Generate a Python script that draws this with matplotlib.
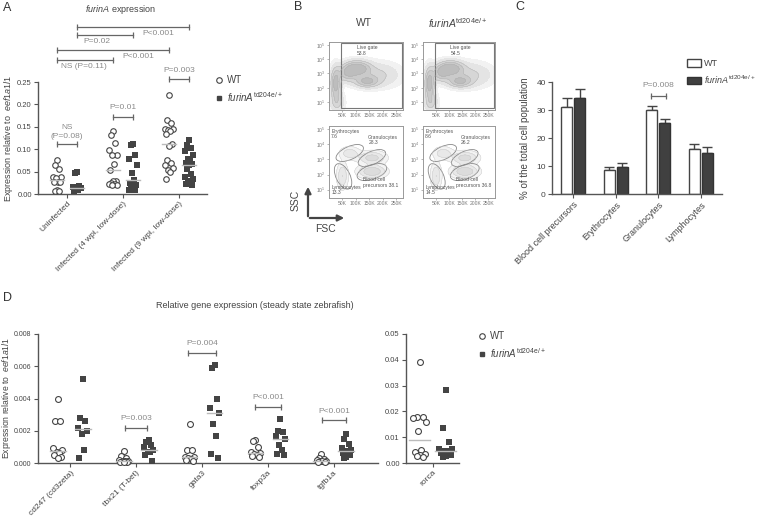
import numpy as np
import matplotlib
matplotlib.use('Agg')
import matplotlib.pyplot as plt
from matplotlib.patches import Ellipse, Rectangle, Patch, FancyArrowPatch
from matplotlib.lines import Line2D

plt.rcParams['font.family'] = ['Liberation Sans', 'DejaVu Sans']
plt.rcParams['mathtext.fontset'] = 'custom'
plt.rcParams['mathtext.rm'] = 'Liberation Sans'
plt.rcParams['mathtext.it'] = 'Liberation Sans:italic'

# ---- panel A data (furinA expression) ----
a_groups = ['Uninfected', 'Infected (4 wpi, low-dose)', 'Infected (9 wpi, low-dose)']
a_wt_uninf = [0.077, 0.064, 0.055, 0.038, 0.037, 0.036, 0.027, 0.027, 0.026, 0.010, 0.007, 0.006]
a_mut_uninf = [0.050, 0.046, 0.018, 0.016, 0.013, 0.010, 0.008, 0.007]
a_wt_4wpi = [0.141, 0.132, 0.113, 0.099, 0.088, 0.087, 0.067, 0.053, 0.029, 0.028, 0.025, 0.022, 0.022, 0.020, 0.020]
a_mut_4wpi = [0.111, 0.109, 0.087, 0.079, 0.064, 0.047, 0.031, 0.024, 0.020, 0.015, 0.012, 0.010, 0.010]
a_wt_9wpi = [0.222, 0.166, 0.158, 0.146, 0.145, 0.143, 0.140, 0.135, 0.112, 0.108, 0.077, 0.070, 0.064, 0.057, 0.054, 0.050, 0.033]
a_mut_9wpi = [0.121, 0.110, 0.103, 0.095, 0.088, 0.078, 0.074, 0.070, 0.067, 0.064, 0.055, 0.045, 0.038, 0.033, 0.030, 0.026, 0.022, 0.019]

# ---- panel C data (cell populations, mean + SEM) ----
c_cats = ['Blood cell precursors', 'Erythrocytes', 'Granulocytes', 'Lymphocytes']
c_wt = [31.0, 8.4, 29.9, 16.2]
c_wt_err = [3.4, 1.4, 1.6, 1.8]
c_mut = [34.3, 9.8, 25.3, 14.7]
c_mut_err = [3.1, 1.2, 1.4, 2.2]

# ---- panel D data (steady state gene expression) ----
d_genes = ['cd247 (cd3zeta)', 'tbx21 (T-bet)', 'gata3', 'foxp3a', 'tgfb1a']
d_wt = [
    [0.0040, 0.0026, 0.0026, 0.00095, 0.0008, 0.0007, 0.0006, 0.0005, 0.0004, 0.0003],
    [0.00075, 0.00045, 0.00030, 0.00020, 0.00015, 0.00012, 0.00010, 0.00008, 0.00006, 0.00005],
    [0.0024, 0.0008, 0.0008, 0.0004, 0.00035, 0.0003, 0.00025, 0.0002, 0.00015],
    [0.0014, 0.00135, 0.0010, 0.0007, 0.0006, 0.00055, 0.0005, 0.00045, 0.0004],
    [0.00055, 0.0003, 0.00025, 0.0002, 0.00015, 0.00012, 0.0001, 0.00008, 0.00005],
]
d_mut = [
    [0.0052, 0.0028, 0.0026, 0.0022, 0.0020, 0.0018, 0.0008, 0.0003],
    [0.0014, 0.0013, 0.0011, 0.0010, 0.0008, 0.0007, 0.0007, 0.0005, 0.0001],
    [0.0061, 0.0059, 0.0040, 0.0034, 0.0031, 0.0024, 0.0017, 0.00055, 0.0003],
    [0.0027, 0.0020, 0.0019, 0.0017, 0.0015, 0.0011, 0.0008, 0.00055, 0.0005],
    [0.0018, 0.0015, 0.0012, 0.0009, 0.0008, 0.00075, 0.0007, 0.0006, 0.0005, 0.0004, 0.0003],
]
rorca_wt = [0.039, 0.018, 0.0177, 0.0174, 0.016, 0.0125, 0.005, 0.0041, 0.0036, 0.0032, 0.0028, 0.0023]
rorca_mut = [0.0284, 0.0134, 0.0080, 0.0055, 0.0053, 0.0046, 0.0045, 0.0039, 0.0032, 0.0028, 0.0025]

# ---- panel B gate frequencies ----
live_gate = ['53.8', '54.5']
gate_names = ['Erythrocytes', 'Granulocytes', 'Blood cell\nprecursors', 'Lymphocytes']
gate_wt = ['7.6', '28.3', '38.1', '13.3']
gate_mut = ['8.6', '26.2', '36.8', '14.5']
# rough population shapes (FSC in K, log10 SSC, sd, sd, weight)
pop_all = [(105, 3.35, 30, 0.32, 1.0), (140, 2.45, 28, 0.25, 0.7), (25, 2.3, 11, 0.65, 0.9),
           (70, 3.0, 22, 0.35, 0.6), (180, 2.9, 50, 0.5, 0.3), (30, 1.0, 15, 0.4, 0.35)]
pop_gated = [(77, 3.4, 22, 0.25, 0.5), (160, 3.1, 30, 0.25, 0.8), (160, 2.2, 30, 0.25, 1.0),
             (50, 1.9, 12, 0.5, 0.6)]

W, H = 760, 519
fig = plt.figure(figsize=(7.6, 5.19), dpi=100)
DARK = '#444444'
PGREY = '#8a8a8a'
mut_label = r'$\it{furinA}^{\rm td204e/+}$'


def px_axes(x0, y0, x1, y1):
    return fig.add_axes([x0 / W, 1 - y1 / H, (x1 - x0) / W, (y1 - y0) / H])


def ftext(x, y, s, **kw):
    fig.text(x / W, 1 - y / H, s, **kw)


def prism(ax, fs=5.5):
    for s in ['top', 'right']:
        ax.spines[s].set_visible(False)
    for s in ['left', 'bottom']:
        ax.spines[s].set_color('#555555')
        ax.spines[s].set_linewidth(1)
    ax.tick_params(colors='#555555', labelcolor=DARK, labelsize=fs, length=3, width=0.8, pad=1.5)


jit = [0, -1, 1, -2, 2, -0.5, 0.5, -1.5, 1.5]


def dots(ax, x, vals, mk, w, half, s=16):
    vals = np.sort(vals)[::-1]
    xs = [x + jit[i % len(jit)] * w for i in range(len(vals))]
    if mk == 'o':
        ax.scatter(xs, vals, s=s, facecolors='white', edgecolors=DARK, linewidths=0.8, zorder=3, clip_on=False)
    else:
        ax.scatter(xs, vals, s=s, marker='s', color=DARK, linewidths=0, zorder=3, clip_on=False)
    m = np.median(vals)
    ax.plot([x - half, x + half], [m, m], color='#bbbbbb', lw=1, zorder=4)


def sig(ax, x0, x1, y, txt, tx, ty, fs=6):
    ax.plot([x0, x1], [y, y], color='#666666', lw=0.9, marker='|', ms=5, mew=0.9, clip_on=False)
    ax.text(tx, ty, txt, ha='center', va='center', fontsize=fs, color=PGREY, clip_on=False)


# ================= Panel A =================
axA = px_axes(38, 82, 207, 194)
prism(axA)
axA.set_xlim(-0.52, 2.5)
axA.set_ylim(0, 0.25)
axA.set_yticks([0, 0.05, 0.10, 0.15, 0.20, 0.25])
axA.set_yticklabels(['0.00', '0.05', '0.10', '0.15', '0.20', '0.25'])
for i, (w, m) in enumerate([(a_wt_uninf, a_mut_uninf), (a_wt_4wpi, a_mut_4wpi), (a_wt_9wpi, a_mut_9wpi)]):
    dots(axA, i - 0.18, w, 'o', 0.035, 0.13)
    dots(axA, i + 0.18, m, 's', 0.035, 0.13)
axA.set_xticks(range(3))
axA.set_xticklabels(a_groups, rotation=45, ha='right', rotation_mode='anchor', fontsize=6)
axA.set_ylabel(r'Expression relative to  $\it{eef1a1l1}$', fontsize=6.5, color=DARK)
axA.yaxis.set_label_coords(-23 / 169, 0.5)
sig(axA, -0.18, 0.18, 0.1116, '(P=0.08)', 0, 0.129)
axA.text(0, 0.149, 'NS', ha='center', va='center', fontsize=6, color=PGREY)
sig(axA, 0.82, 1.18, 0.172, 'P=0.01', 1.0, 0.194)
sig(axA, 1.82, 2.18, 0.257, 'P=0.003', 2.0, 0.275)
sig(axA, -0.18, 0.82, 0.299, 'NS (P=0.11)', 0.30, 0.285)
sig(axA, -0.18, 1.82, 0.321, 'P<0.001', 1.27, 0.308)
sig(axA, 0.18, 1.18, 0.355, 'P=0.02', 0.54, 0.341)
sig(axA, 0.18, 2.18, 0.373, 'P<0.001', 1.63, 0.359)
ftext(120, 10, r'$\it{furinA}$ expression', ha='center', va='center', fontsize=6.5, color=DARK)
ftext(3, 8, 'A', ha='left', va='center', fontsize=9, color='#333333')
fig.legend(handles=[Line2D([], [], marker='o', ls='', mfc='white', mec=DARK, ms=4, mew=0.8),
                    Line2D([], [], marker='s', ls='', mfc=DARK, mec=DARK, ms=3.5)],
           labels=['WT', mut_label], loc='upper left', bbox_to_anchor=(214 / W, 1 - 75 / H),
           frameon=False, fontsize=7, handletextpad=0.3, labelspacing=0.5, borderaxespad=0,
           borderpad=0, handlelength=1, labelcolor=DARK)

# ================= Panel B =================
ftext(294, 7, 'B', ha='left', va='center', fontsize=9, color='#333333')
ftext(364, 23, 'WT', ha='center', va='center', fontsize=7.5, color=DARK)
ftext(458, 23, mut_label, ha='center', va='center', fontsize=7.5, color=DARK)

gx, gy = np.meshgrid(np.linspace(0, 275, 160), np.linspace(0.45, 5.2, 140))


def density(pops):
    z = np.zeros_like(gx)
    for cx, cy, sx, sy, wt in pops:
        z += wt * np.exp(-0.5 * (((gx - cx) / sx) ** 2 + ((gy - cy) / sy) ** 2))
    return z


def flow_axes(x0, y0, x1, y1):
    ax = px_axes(x0, y0, x1, y1)
    ax.set_xlim(0, 275)
    ax.set_ylim(0.45, 5.2)
    for s in ax.spines.values():
        s.set_color('#999999')
        s.set_linewidth(0.7)
    ax.set_xticks([50, 100, 150, 200, 250])
    ax.set_xticklabels(['50K', '100K', '150K', '200K', '250K'])
    ax.set_yticks([1, 2, 3, 4, 5])
    ax.set_yticklabels([r'$10^{%d}$' % k for k in range(1, 6)])
    ax.tick_params(labelsize=3.6, length=1.5, width=0.5, colors='#999999', labelcolor='#777777', pad=1)
    return ax


zall = density(pop_all)
zg = density(pop_gated)
for k, (x0, x1) in enumerate([(329, 403), (423, 495)]):
    ax = flow_axes(x0, 42, x1, 110)
    ax.contourf(gx, gy, zall, levels=[0.03, 0.1, 0.25, 0.45, 0.7, 2],
                colors=['#f2f2f2', '#e4e4e4', '#d6d6d6', '#cacaca', '#bdbdbd'])
    ax.contour(gx, gy, zall, levels=[0.25, 0.45, 0.7], colors='#b0b0b0', linewidths=0.3)
    ax.add_patch(Rectangle((0.16, 0.03), 0.825, 0.955, transform=ax.transAxes, fill=False,
                           ec='#777777', lw=0.8))
    ax.text(0.38, 0.95, 'Live gate\n' + live_gate[k], transform=ax.transAxes, ha='left', va='top',
            fontsize=3.6, color='#555555', linespacing=1.1)

    ax = flow_axes(x0, 126, x1, 198)
    ax.contourf(gx, gy, zg, levels=[0.1, 0.3, 0.6, 2], colors=['#f3f3f3', '#e8e8e8', '#dcdcdc'])
    ax.contour(gx, gy, zg, levels=[0.1, 0.3, 0.6], colors='#c8c8c8', linewidths=0.3)
    for (cx, cy, ew, eh, ang) in [(0.28, 0.625, 0.40, 0.18, 25), (0.58, 0.555, 0.40, 0.18, 25),
                                  (0.58, 0.36, 0.42, 0.20, 20), (0.19, 0.30, 0.38, 0.19, 115)]:
        ax.add_patch(Ellipse((cx, cy), ew, eh, angle=ang, transform=ax.transAxes, fill=False,
                             ec='#888888', lw=0.6))
    vals = gate_wt if k == 0 else gate_mut
    ax.text(0.03, 0.96, gate_names[0] + '\n' + vals[0], transform=ax.transAxes, ha='left', va='top',
            fontsize=3.6, color='#555555', linespacing=1.1)
    ax.text(0.53, 0.88, gate_names[1] + '\n' + vals[1], transform=ax.transAxes, ha='left', va='top',
            fontsize=3.6, color='#555555', linespacing=1.1)
    ax.text(0.46, 0.29, gate_names[2] + ' ' + vals[2], transform=ax.transAxes, ha='left', va='top',
            fontsize=3.6, color='#555555', linespacing=1.1)
    ax.text(0.03, 0.18, gate_names[3] + '\n' + vals[3], transform=ax.transAxes, ha='left', va='top',
            fontsize=3.6, color='#555555', linespacing=1.1)

fig.patches.append(FancyArrowPatch((308 / W, 1 - 219 / H), (308 / W, 1 - 184 / H),
                   transform=fig.transFigure, arrowstyle='-|>', mutation_scale=9, lw=1.6, color='#444444'))
fig.patches.append(FancyArrowPatch((307 / W, 1 - 218 / H), (347 / W, 1 - 218 / H),
                   transform=fig.transFigure, arrowstyle='-|>', mutation_scale=9, lw=1.6, color='#444444'))
ftext(296, 200, 'SSC', ha='center', va='center', rotation=90, fontsize=7.5, color=DARK)
ftext(326, 229, 'FSC', ha='center', va='center', fontsize=7.5, color=DARK)

# ================= Panel C =================
axC = px_axes(552, 82, 722, 194)
prism(axC, fs=6)
xc = np.arange(len(c_cats))
axC.bar(xc - 0.155, c_wt, 0.26, color='white', edgecolor=DARK, lw=1, zorder=2)
axC.bar(xc + 0.155, c_mut, 0.26, color='#404040', edgecolor='#333333', lw=1, zorder=2)
axC.errorbar(xc - 0.155, c_wt, yerr=[np.zeros(4), c_wt_err], fmt='none', ecolor=DARK, elinewidth=1,
             capsize=3.5, capthick=1, zorder=1)
axC.errorbar(xc + 0.155, c_mut, yerr=[np.zeros(4), c_mut_err], fmt='none', ecolor=DARK, elinewidth=1,
             capsize=3.5, capthick=1, zorder=1)
axC.set_xlim(-0.5, 3.5)
axC.set_ylim(0, 40)
axC.set_yticks([0, 10, 20, 30, 40])
axC.set_xticks(xc)
axC.set_xticklabels(c_cats, rotation=45, ha='right', rotation_mode='anchor', fontsize=6.5)
axC.set_ylabel('% of the total cell population', fontsize=7, color=DARK)
axC.yaxis.set_label_coords(-22 / 170, 0.5)
sig(axC, 2 - 0.17, 2 + 0.19, 35, 'P=0.008', 2.0, 38.9, fs=6)
ftext(515, 7, 'C', ha='left', va='center', fontsize=9, color='#333333')
fig.legend(handles=[Patch(facecolor='white', edgecolor=DARK, lw=1), Patch(facecolor='#404040', edgecolor='#333333')],
           labels=['WT', mut_label], loc='upper left', bbox_to_anchor=(687 / W, 1 - 59 / H),
           frameon=False, fontsize=6.5, handletextpad=0.4, labelspacing=0.6, borderaxespad=0,
           borderpad=0, handlelength=1.5, handleheight=0.9, labelcolor=DARK)

# ================= Panel D =================
axD = px_axes(38, 334, 378, 463)
prism(axD, fs=5)
axD.set_xlim(-0.49, 4.67)
axD.set_ylim(0, 0.008)
axD.set_yticks([0, 0.002, 0.004, 0.006, 0.008])
axD.set_yticklabels(['0.000', '0.002', '0.004', '0.006', '0.008'])
for i in range(len(d_genes)):
    dots(axD, i - 0.19, d_wt[i], 'o', 0.035, 0.12, s=18)
    dots(axD, i + 0.19, d_mut[i], 's', 0.035, 0.12, s=18)
axD.set_xticks(range(len(d_genes)))
axD.set_xticklabels(d_genes, rotation=45, ha='right', rotation_mode='anchor', fontsize=6)
axD.set_ylabel(r'Expression relative to  $\it{eef1a1l1}$', fontsize=6.2, color=DARK)
axD.yaxis.set_label_coords(-25 / 340, 0.5)
sig(axD, 1 - 0.17, 1 + 0.17, 0.00217, 'P=0.003', 1, 0.00273, fs=6)
sig(axD, 2 - 0.21, 2 + 0.21, 0.00682, 'P=0.004', 2, 0.00744, fs=6)
sig(axD, 3 - 0.2, 3 + 0.2, 0.00347, 'P<0.001', 3, 0.00409, fs=6)
sig(axD, 4 - 0.18, 4 + 0.18, 0.00267, 'P<0.001', 4, 0.00322, fs=6)

axD2 = px_axes(406, 334, 459, 463)
prism(axD2, fs=5.5)
axD2.set_xlim(-0.5, 0.5)
axD2.set_ylim(0, 0.05)
axD2.set_yticks([0, 0.01, 0.02, 0.03, 0.04, 0.05])
axD2.set_yticklabels(['0.00', '0.01', '0.02', '0.03', '0.04', '0.05'])
dots(axD2, -0.24, rorca_wt, 'o', 0.06, 0.2, s=18)
dots(axD2, 0.25, rorca_mut, 's', 0.06, 0.2, s=18)
axD2.set_xticks([0])
axD2.set_xticklabels(['rorca'], rotation=45, ha='right', rotation_mode='anchor', fontsize=6)

ftext(255, 305, 'Relative gene expression (steady state zebrafish)', ha='center', va='center',
      fontsize=6.5, color=DARK)
ftext(3, 298, 'D', ha='left', va='center', fontsize=9, color='#333333')
fig.legend(handles=[Line2D([], [], marker='o', ls='', mfc='white', mec=DARK, ms=4, mew=0.8),
                    Line2D([], [], marker='s', ls='', mfc=DARK, mec=DARK, ms=3.5)],
           labels=['WT', mut_label], loc='upper left', bbox_to_anchor=(477 / W, 1 - 331 / H),
           frameon=False, fontsize=7, handletextpad=0.3, labelspacing=0.5, borderaxespad=0,
           borderpad=0, handlelength=1, labelcolor=DARK)

fig.savefig('out.png', dpi=100)
